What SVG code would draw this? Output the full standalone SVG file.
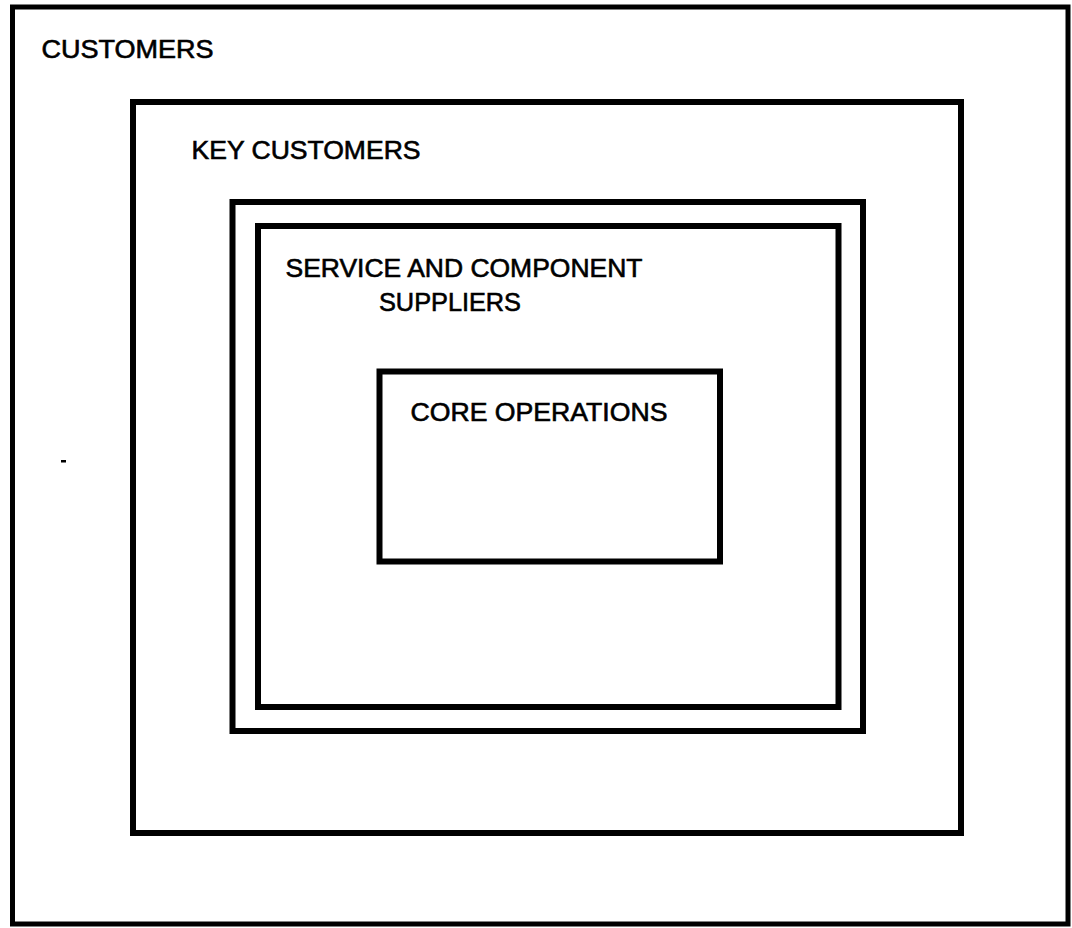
<svg xmlns="http://www.w3.org/2000/svg" width="1072" height="928" viewBox="0 0 1072 928">
  <style>
    .box { fill: none; stroke: #000; stroke-width: 6; stroke-linejoin: miter; }
    .outer { stroke-width: 5; }
    .label { font-family: "Liberation Sans", Arial, Helvetica, sans-serif; font-size: 25px; fill: #000; stroke: #000; stroke-width: 0.6px; }
  </style>
  <rect width="1072" height="928" fill="#fff"/>

  <g id="customers">
    <rect class="box outer" x="12.5" y="7" width="1055.5" height="917"/>
    <text class="label" x="41.5" y="58" textLength="172" lengthAdjust="spacingAndGlyphs">CUSTOMERS</text>
  </g>

  <g id="key-customers">
    <rect class="box" x="133" y="102" width="828" height="731"/>
    <text class="label" x="191.5" y="159" textLength="229" lengthAdjust="spacingAndGlyphs">KEY CUSTOMERS</text>
  </g>

  <g id="suppliers">
    <rect class="box" x="232.5" y="202" width="630.5" height="529"/>
    <rect class="box" x="258" y="226" width="580.5" height="481"/>
    <text class="label" x="285.5" y="277" textLength="357" lengthAdjust="spacingAndGlyphs">SERVICE AND COMPONENT</text>
    <text class="label" x="379" y="311" textLength="142" lengthAdjust="spacingAndGlyphs">SUPPLIERS</text>
  </g>

  <g id="core-operations">
    <rect class="box" x="379.5" y="371.5" width="340.5" height="190"/>
    <text class="label" x="410.5" y="421" textLength="257" lengthAdjust="spacingAndGlyphs">CORE OPERATIONS</text>
  </g>

  <!-- small stray mark left of the key customers box -->
  <rect x="61" y="460" width="5" height="2.5" fill="#000"/>

  <g id="connectors"/>
</svg>
